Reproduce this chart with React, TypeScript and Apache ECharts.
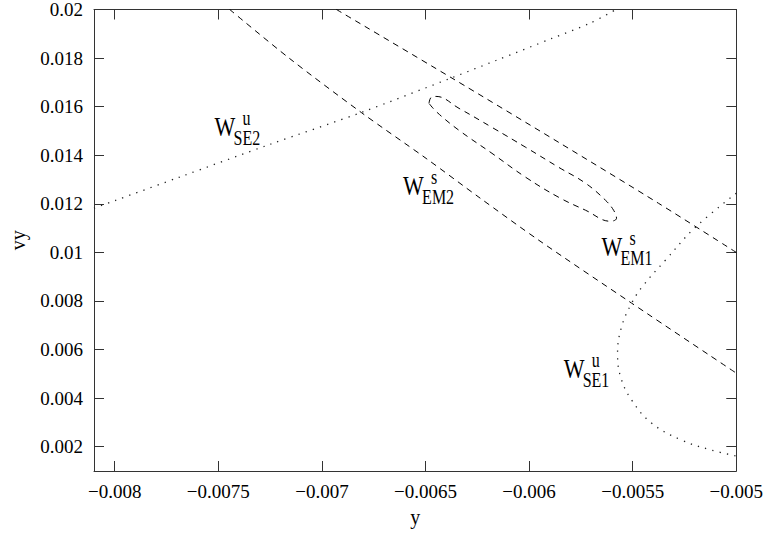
import React, { useEffect, useRef } from "react";
import * as echarts from "echarts";

// Axis ticks
const xTicks = [-0.008, -0.0075, -0.007, -0.0065, -0.006, -0.0055, -0.005];
const yTicks = [0.002, 0.004, 0.006, 0.008, 0.01, 0.012, 0.014, 0.016, 0.018, 0.02];

// W^u_SE2 (dotted)
const se2X = [-0.0081, -0.00769, -0.00725, -0.00681, -0.00637, -0.00616, -0.00589, -0.00571, -0.00558];
const se2Y = [0.01182, 0.01309, 0.01445, 0.01576, 0.0172, 0.0179, 0.01881, 0.01942, 0.02];

// W^s_EM2 (dashed)
const em2X = [-0.007445, -0.007157, -0.00681, -0.006497, -0.006242, -0.005953, -0.005505, -0.005];
const em2Y = [0.02, 0.01799, 0.01576, 0.01387, 0.01227, 0.0105, 0.00791, 0.00503];

// W^s_EM1 outer branch (dashed)
const em1X = [-0.00693, -0.006377, -0.005857, -0.005375, -0.005];
const em1Y = [0.02, 0.0172, 0.01453, 0.01202, 0.01];

// W^s_EM1 loop (dashed)
const loopX = [-0.006483, -0.006473, -0.006449, -0.006338, -0.006179, -0.006016, -0.005857, -0.005727, -0.005631, -0.005592, -0.005578, -0.005607, -0.005727, -0.005857, -0.006016, -0.006179, -0.006338, -0.006444, -0.006483];
const loopY = [0.016134, 0.016381, 0.016422, 0.015929, 0.015147, 0.014325, 0.013502, 0.012844, 0.012145, 0.011734, 0.011405, 0.011281, 0.011734, 0.012268, 0.013091, 0.014078, 0.015024, 0.015764, 0.016134];

// W^u_SE1 (dotted)
const se1X = [-0.005, -0.005197, -0.005342, -0.005448, -0.005505, -0.005554, -0.005573, -0.005558, -0.005505, -0.005409, -0.005265, -0.00512, -0.005];
const se1Y = [0.012433, 0.011035, 0.009677, 0.008649, 0.007909, 0.006922, 0.005853, 0.004866, 0.00392, 0.002974, 0.002275, 0.001863, 0.001617];

// Curve labels
const labelBase = ["W", "W", "W", "W"];
const labelSup = ["u", "s", "s", "u"];
const labelSub = ["SE2", "EM2", "EM1", "SE1"];
const labelX = [-0.007518, -0.006608, -0.00565, -0.005833];
const labelY = [0.014818, 0.012392, 0.009883, 0.004866];

const FONT = "'Liberation Serif', 'Times New Roman', serif";

const zip = (xs: number[], ys: number[]) => xs.map((x, i) => [x, ys[i]]);

export default function App() {
  const ref = useRef<HTMLDivElement>(null);

  useEffect(() => {
    if (!ref.current) return;
    const chart = echarts.init(ref.current, null, { renderer: "svg" });
    const axisColor = "#333";
    const fmt = (v: number) => String(v).replace("-", "\u2212");

    const dashed = { color: "#000", width: 1, type: [6, 5] as number[] };
    const dotted = { color: "#222", width: 1.3, type: [1.3, 6.2] as number[] };

    const mkSeries = (data: number[][], style: any, smooth: number | boolean = false) => ({
      type: "line",
      data,
      showSymbol: false,
      symbol: "none",
      smooth,
      lineStyle: style,
      xAxisIndex: 0,
      yAxisIndex: 0,
      silent: true,
    });

    chart.setOption({
      animation: false,
      backgroundColor: "#fff",
      grid: { left: 94, right: 28, top: 9, bottom: 62, containLabel: false },
      xAxis: [
        {
          type: "value",
          position: "bottom",
          min: -0.0081,
          max: -0.005,
          name: "y",
          nameLocation: "middle",
          nameGap: 36,
          nameTextStyle: { fontFamily: FONT, fontSize: 20, color: "#000" },
          axisLine: { show: true, onZero: false, lineStyle: { color: axisColor, width: 1 } },
          axisTick: { show: true, inside: true, length: 10, customValues: xTicks, lineStyle: { color: axisColor } },
          axisLabel: { customValues: xTicks, formatter: fmt, fontFamily: FONT, fontSize: 19, color: "#000", margin: 11 },
          splitLine: { show: false },
        },
        {
          type: "value",
          position: "top",
          min: -0.0081,
          max: -0.005,
          axisLine: { show: true, onZero: false, lineStyle: { color: axisColor, width: 1 } },
          axisTick: { show: true, inside: true, length: 10, customValues: xTicks, lineStyle: { color: axisColor } },
          axisLabel: { show: false },
          splitLine: { show: false },
        },
      ],
      yAxis: [
        {
          type: "value",
          position: "left",
          min: 0.001,
          max: 0.02,
          name: "vy",
          nameLocation: "middle",
          nameGap: 66,
          nameRotate: 90,
          nameTextStyle: { fontFamily: FONT, fontSize: 20, color: "#000" },
          axisLine: { show: true, onZero: false, lineStyle: { color: axisColor, width: 1 } },
          axisTick: { show: true, inside: true, length: 10, customValues: yTicks, lineStyle: { color: axisColor } },
          axisLabel: { customValues: yTicks, formatter: (v: number) => String(v), fontFamily: FONT, fontSize: 19, color: "#000", margin: 11 },
          splitLine: { show: false },
        },
        {
          type: "value",
          position: "right",
          min: 0.001,
          max: 0.02,
          axisLine: { show: true, onZero: false, lineStyle: { color: axisColor, width: 1 } },
          axisTick: { show: true, inside: true, length: 10, customValues: yTicks, lineStyle: { color: axisColor } },
          axisLabel: { show: false },
          splitLine: { show: false },
        },
      ],
      series: [
        mkSeries(zip(se2X, se2Y), dotted, 0.3),
        mkSeries(zip(em2X, em2Y), dashed, 0.3),
        mkSeries(zip(em1X, em1Y), dashed, 0.3),
        mkSeries(zip(loopX, loopY), dashed, 0.4),
        mkSeries(zip(se1X, se1Y), dotted, 0.4),
      ],
    });

    const graphics = labelBase.map((b, i) => {
      const p = chart.convertToPixel({ gridIndex: 0 }, [labelX[i], labelY[i]]) as number[];
      return {
        type: "group",
        x: p[0],
        y: p[1],
        scaleY: 1.25,
        silent: true,
        children: [
          {
            type: "text",
            x: 0,
            y: -7,
            style: { text: b, font: `22px ${FONT}`, fill: "#000", textAlign: "left", textVerticalAlign: "middle" },
          },
          {
            type: "text",
            x: 28,
            y: -13.3,
            style: { text: labelSup[i], font: `16px ${FONT}`, fill: "#000", textAlign: "left", textVerticalAlign: "middle" },
          },
          {
            type: "text",
            x: 19,
            y: 2.7,
            style: { text: labelSub[i], font: `16px ${FONT}`, fill: "#000", textAlign: "left", textVerticalAlign: "middle" },
          },
        ],
      };
    });
    chart.setOption({ graphic: graphics });

    return () => chart.dispose();
  }, []);

  return <div ref={ref} style={{ width: 766, height: 533, position: "absolute", left: 0, top: 0 }} />;
}
